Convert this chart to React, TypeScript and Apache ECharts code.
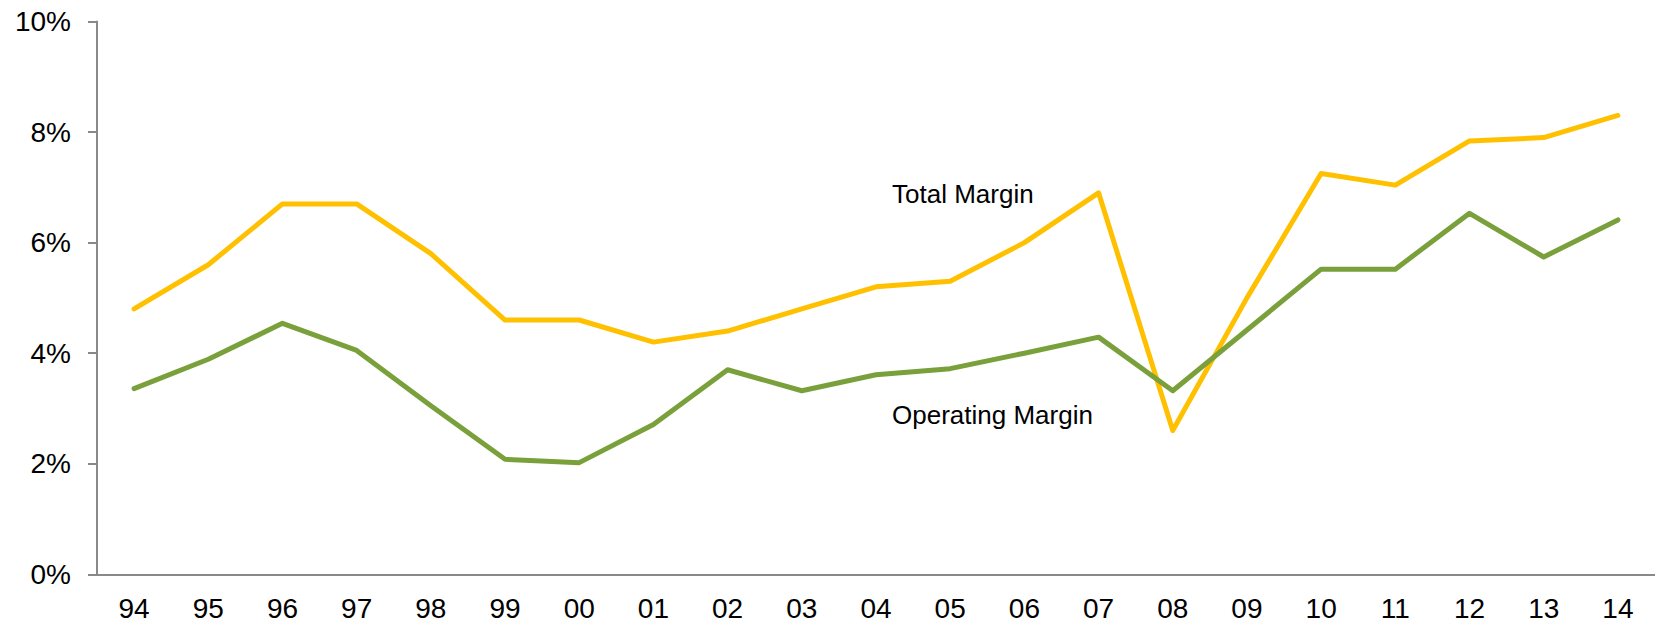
import React, { useEffect, useRef } from "react";
import * as echarts from "echarts";

const years = ["94", "95", "96", "97", "98", "99", "00", "01", "02", "03", "04", "05", "06", "07", "08", "09", "10", "11", "12", "13", "14"];
const totalMargin = [4.8, 5.6, 6.7, 6.7, 5.8, 4.6, 4.6, 4.2, 4.4, 4.8, 5.2, 5.3, 6.0, 6.9, 2.6, 5.0, 7.25, 7.04, 7.84, 7.9, 8.3];
const operatingMargin = [3.36, 3.89, 4.54, 4.05, 3.05, 2.08, 2.02, 2.71, 3.7, 3.32, 3.61, 3.72, 4.0, 4.29, 3.32, 4.42, 5.52, 5.52, 6.53, 5.74, 6.41];
const seriesNames = ["Total Margin", "Operating Margin"];
const yTicks = { min: 0, max: 10, interval: 2 };

const FONT = "'Liberation Sans', Arial, sans-serif";

export default function App() {
  const ref = useRef<HTMLDivElement>(null);
  useEffect(() => {
    if (!ref.current) return;
    const chart = echarts.init(ref.current, undefined, { renderer: "svg" });
    chart.setOption({
      animation: false,
      backgroundColor: "#ffffff",
      grid: { left: 97, right: 0, top: 21.5, bottom: 50.7, containLabel: false },
      xAxis: {
        type: "category",
        data: years,
        boundaryGap: true,
        axisLine: { lineStyle: { color: "#898989", width: 2 } },
        axisTick: { show: false },
        axisLabel: { color: "#000", fontSize: 28, fontFamily: FONT, margin: 20 },
        splitLine: { show: false },
      },
      yAxis: {
        type: "value",
        min: yTicks.min,
        max: yTicks.max,
        interval: yTicks.interval,
        axisLine: { show: true, lineStyle: { color: "#898989", width: 2 } },
        axisTick: { show: true, length: 9, lineStyle: { color: "#898989", width: 2 } },
        axisLabel: { color: "#000", fontSize: 28, fontFamily: FONT, margin: 26, formatter: "{value}%" },
        splitLine: { show: false },
      },
      series: [
        {
          name: seriesNames[0],
          type: "line",
          data: totalMargin,
          symbol: "none",
          lineStyle: { color: "#FFC000", width: 5, cap: "round", join: "round" },
        },
        {
          name: seriesNames[1],
          type: "line",
          data: operatingMargin,
          symbol: "none",
          lineStyle: { color: "#79A03A", width: 5, cap: "round", join: "round" },
        },
      ],
      graphic: [
        {
          type: "text",
          left: 892,
          top: 181,
          style: { text: seriesNames[0], fontSize: 26, fontFamily: FONT, fill: "#000" },
        },
        {
          type: "text",
          left: 892,
          top: 402,
          style: { text: seriesNames[1], fontSize: 26, fontFamily: FONT, fill: "#000" },
        },
      ],
    });
    return () => chart.dispose();
  }, []);
  return (
    <div
      ref={ref}
      style={{ position: "absolute", left: 0, top: 0, width: 1655, height: 625 }}
    />
  );
}
